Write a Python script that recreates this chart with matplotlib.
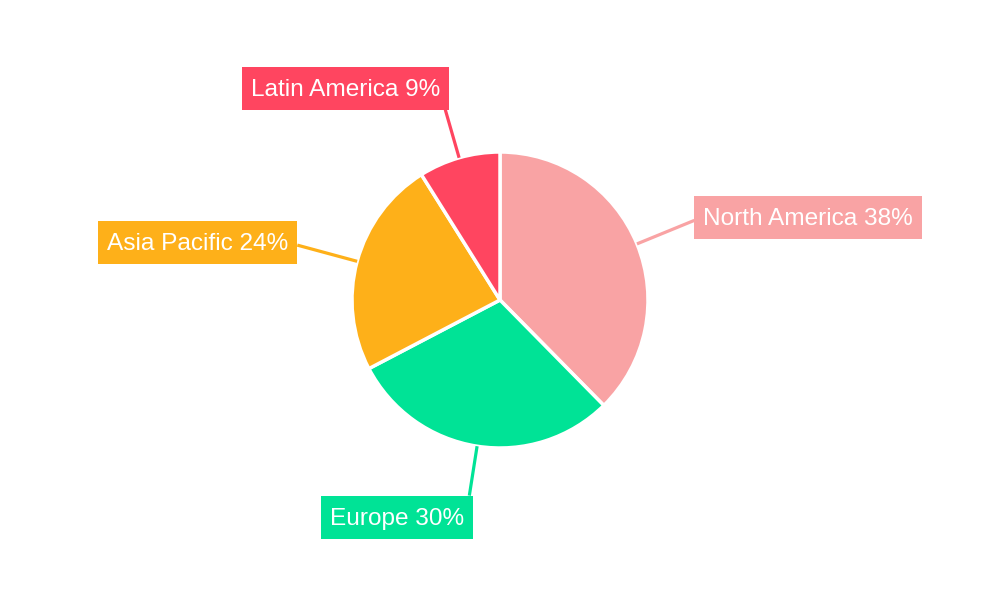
import numpy as np
import matplotlib.pyplot as plt
from matplotlib.patches import Rectangle

# Market share by region
regions = ["North America", "Europe", "Asia Pacific", "Latin America"]
shares = [38, 30, 24, 9]
colors = ["#F9A3A4", "#00E396", "#FEB019", "#FF4560"]

plt.rcParams['font.family'] = ['Liberation Sans', 'DejaVu Sans']

fig = plt.figure(figsize=(10, 6), dpi=100)
ax = fig.add_axes([0, 0, 1, 1])
ax.set_xlim(0, 1000)
ax.set_ylim(0, 600)
ax.set_aspect('equal')
ax.axis('off')

cx, cy, radius = 500, 300, 148
wedges, _ = ax.pie(shares, colors=colors, startangle=90, counterclock=False,
                   center=(cx, cy), radius=radius,
                   wedgeprops=dict(edgecolor='white', linewidth=2.5))
ax.set_xlim(0, 1000)
ax.set_ylim(0, 600)

fs = 17.6
pad_x, box_h = 9, 43
renderer = fig.canvas.get_renderer()

for w, name, val, col in zip(wedges, regions, shares, colors):
    mid = np.deg2rad((w.theta1 + w.theta2) / 2)
    c, s = np.cos(mid), np.sin(mid)
    vertical = abs(s) > 0.8
    r_end = 198 if vertical else 210
    x0, y0 = cx + radius * c, cy + radius * s
    x1, y1 = cx + r_end * c, cy + r_end * s
    ax.plot([x0, x1], [y0, y1], color=col, lw=2.3, solid_capstyle='butt', zorder=1)

    # label box with white text
    label = f"{name} {val}%"
    t = ax.text(0, 0, label, ha='center', va='center', fontsize=fs,
                color='white', zorder=3)
    tw = t.get_window_extent(renderer).width
    bw = tw + 2 * pad_x

    if vertical:
        left = x1 + 4 - bw if c < 0 else x1 - 4
        bottom = y1 if s > 0 else y1 - box_h
    else:
        left = x1 if c > 0 else x1 - bw
        bottom = y1 + 3 - box_h / 2
    ax.add_patch(Rectangle((left, bottom), bw, box_h, fc=col, ec='none', zorder=2))
    t.set_position((left + bw / 2, bottom + box_h / 2 - 2))

fig.savefig("out.png", dpi=100, facecolor='white')
